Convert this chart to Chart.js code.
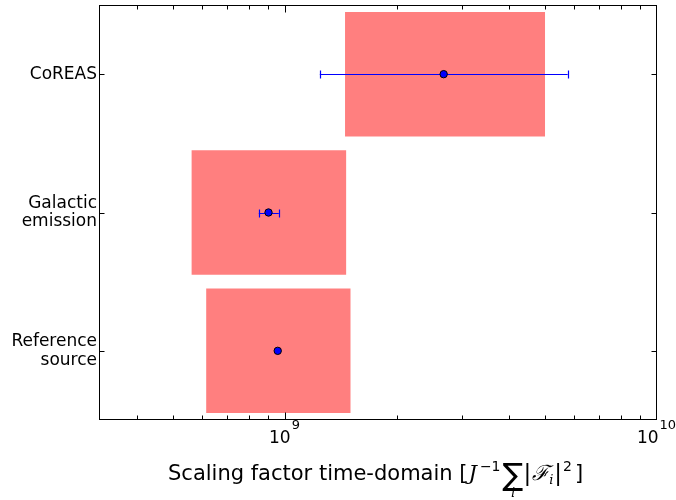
<!DOCTYPE html>
<html>
<head>
<meta charset="utf-8">
<script src="https://cdn.jsdelivr.net/npm/chart.js@4/dist/chart.umd.min.js"></script>
<style>
  html, body { margin: 0; padding: 0; background: #fff; }
  #wrap { width: 676px; height: 500px; }
</style>
</head>
<body>
<div id="wrap"><canvas id="scalingChart"></canvas></div>
<script>
const categories = [["CoREAS"], ["Galactic", "emission"], ["Reference", "source"]];
const boxLow = [1.45e9, 5.61e8, 6.14e8];
const boxHigh = [5.0e9, 1.46e9, 1.50e9];
const pointValues = [2.67e9, 9.03e8, 9.56e8];
const errLow = [1.24e9, 8.50e8, null];
const errHigh = [5.75e9, 9.62e8, null];
const xMajorTicks = [1e9, 1e10];
const xMajorExponents = ["9", "10"];
const xMinorTicks = [4e8, 5e8, 6e8, 7e8, 8e8, 9e8, 2e9, 3e9, 4e9, 5e9, 6e9, 7e9, 8e9, 9e9];
const xMin = Math.pow(10, 8.5);
const xMax = 1e10;

function drawAxisTitle(ctx, startX, baseline) {
  let x = startX;
  ctx.fillStyle = "#000";
  ctx.textAlign = "left";
  ctx.textBaseline = "alphabetic";
  const part = (text, font, dy, gapAfter) => {
    ctx.font = font;
    ctx.fillText(text, x, baseline + (dy || 0));
    const w = ctx.measureText(text).width;
    x += w + (gapAfter || 0);
    return w;
  };
  part("Scaling factor time-domain [", "21px 'DejaVu Sans'", 0, 1);
  part("J", "italic 21px 'DejaVu Serif'", 0, 3);
  part("\u22121", "14px 'DejaVu Sans'", -9, 2);
  const sumX = x;
  const sumW = part("\u2211", "31px 'DejaVu Sans'", 5, 0);
  ctx.font = "italic 13px 'DejaVu Serif'";
  const iw = ctx.measureText("i").width;
  ctx.fillText("i", sumX + (sumW - iw) / 2, baseline + 17);
  part("|", "23px 'DejaVu Sans'", 1, 1);
  part("\u2131", "italic 21px 'DejaVu Serif'", 0, 0);
  part("i", "italic 13px 'DejaVu Serif'", 4, 1);
  part("|", "23px 'DejaVu Sans'", 1, 1);
  part("2", "14px 'DejaVu Sans'", -9, 3);
  part("]", "21px 'DejaVu Sans'", 0, 0);
}

const axesDecor = {
  id: "axesDecor",
  beforeDatasetDraw(chart, args) {
    if (args.index !== 1) return;
    const ctx = chart.ctx;
    const xs = chart.scales.x;
    const ys = chart.scales.y;
    ctx.save();
    ctx.strokeStyle = "#0000ff";
    ctx.lineWidth = 1.2;
    errLow.forEach((lo, i) => {
      if (lo === null) return;
      const y = Math.round(ys.getPixelForValue(i)) + 0.5;
      const x1 = xs.getPixelForValue(lo);
      const x2 = xs.getPixelForValue(errHigh[i]);
      ctx.beginPath();
      ctx.moveTo(x1, y);
      ctx.lineTo(x2, y);
      ctx.moveTo(Math.round(x1) + 0.5, y - 4);
      ctx.lineTo(Math.round(x1) + 0.5, y + 4);
      ctx.moveTo(Math.round(x2) + 0.5, y - 4);
      ctx.lineTo(Math.round(x2) + 0.5, y + 4);
      ctx.stroke();
    });
    ctx.restore();
  },
  afterDraw(chart) {
    const ctx = chart.ctx;
    const area = chart.chartArea;
    const xs = chart.scales.x;
    const ys = chart.scales.y;
    const left = Math.round(area.left) + 0.5;
    const right = Math.round(area.right) - 0.5;
    const top = Math.round(area.top) + 0.5;
    const bottom = Math.round(area.bottom) - 0.5;
    ctx.save();
    ctx.strokeStyle = "#000";
    ctx.lineWidth = 1;
    ctx.strokeRect(left, top, right - left, bottom - top);

    ctx.beginPath();
    categories.forEach((c, i) => {
      const y = Math.round(ys.getPixelForValue(i)) + 0.5;
      ctx.moveTo(left, y);
      ctx.lineTo(left + 5, y);
      ctx.moveTo(right, y);
      ctx.lineTo(right - 5, y);
    });
    xMinorTicks.forEach((v) => {
      const x = Math.round(xs.getPixelForValue(v)) + 0.5;
      ctx.moveTo(x, bottom);
      ctx.lineTo(x, bottom - 4);
      ctx.moveTo(x, top);
      ctx.lineTo(x, top + 4);
    });
    xMajorTicks.forEach((v) => {
      const x = Math.min(Math.round(xs.getPixelForValue(v)) + 0.5, right);
      ctx.moveTo(x, bottom);
      ctx.lineTo(x, bottom - 7);
      ctx.moveTo(x, top);
      ctx.lineTo(x, top + 7);
    });
    ctx.stroke();

    ctx.fillStyle = "#000";
    ctx.textAlign = "left";
    ctx.textBaseline = "alphabetic";
    xMajorTicks.forEach((v, i) => {
      const x = xs.getPixelForValue(v);
      ctx.font = "17px 'DejaVu Sans'";
      const w10 = ctx.measureText("10").width;
      ctx.font = "13px 'DejaVu Sans'";
      const wExp = ctx.measureText(xMajorExponents[i]).width;
      const start = x - (w10 + wExp) / 2 - 1;
      ctx.font = "17px 'DejaVu Sans'";
      ctx.fillText("10", start, area.bottom + 23);
      ctx.font = "13px 'DejaVu Sans'";
      ctx.fillText(xMajorExponents[i], start + w10 + 1, area.bottom + 9);
    });

    drawAxisTitle(ctx, 168, 480);
    ctx.restore();
  }
};

new Chart(document.getElementById("scalingChart"), {
  data: {
    labels: categories,
    datasets: [
      {
        type: "bar",
        indexAxis: "y",
        order: 2,
        data: boxLow.map((lo, i) => [lo, boxHigh[i]]),
        backgroundColor: "rgba(255,0,0,0.5)",
        borderWidth: 0,
        categoryPercentage: 1,
        barPercentage: 0.9
      },
      {
        type: "scatter",
        order: 1,
        data: pointValues.map((v, i) => ({ x: v, y: i })),
        backgroundColor: "#0000ff",
        borderColor: "#000000",
        borderWidth: 1,
        pointRadius: 3.7
      }
    ]
  },
  options: {
    responsive: true,
    maintainAspectRatio: false,
    animation: false,
    layout: { padding: { top: 5, right: 19, left: 0, bottom: 0 } },
    plugins: { legend: { display: false }, tooltip: { enabled: false } },
    scales: {
      x: {
        type: "logarithmic",
        position: "bottom",
        min: xMin,
        max: xMax,
        grid: { display: false, drawTicks: false },
        border: { display: false },
        ticks: { display: false },
        afterFit: (scale) => { scale.height = 80; }
      },
      y: {
        type: "category",
        position: "left",
        offset: true,
        grid: { display: false, drawTicks: false },
        border: { display: false },
        ticks: {
          color: "#000",
          padding: 2,
          font: { family: "'DejaVu Sans'", size: 17, lineHeight: 1.1 }
        },
        afterFit: (scale) => {
          scale.width = 99;
          scale.paddingTop = 0;
          scale.paddingBottom = 0;
        }
      }
    }
  },
  plugins: [axesDecor]
});
</script>
</body>
</html>
